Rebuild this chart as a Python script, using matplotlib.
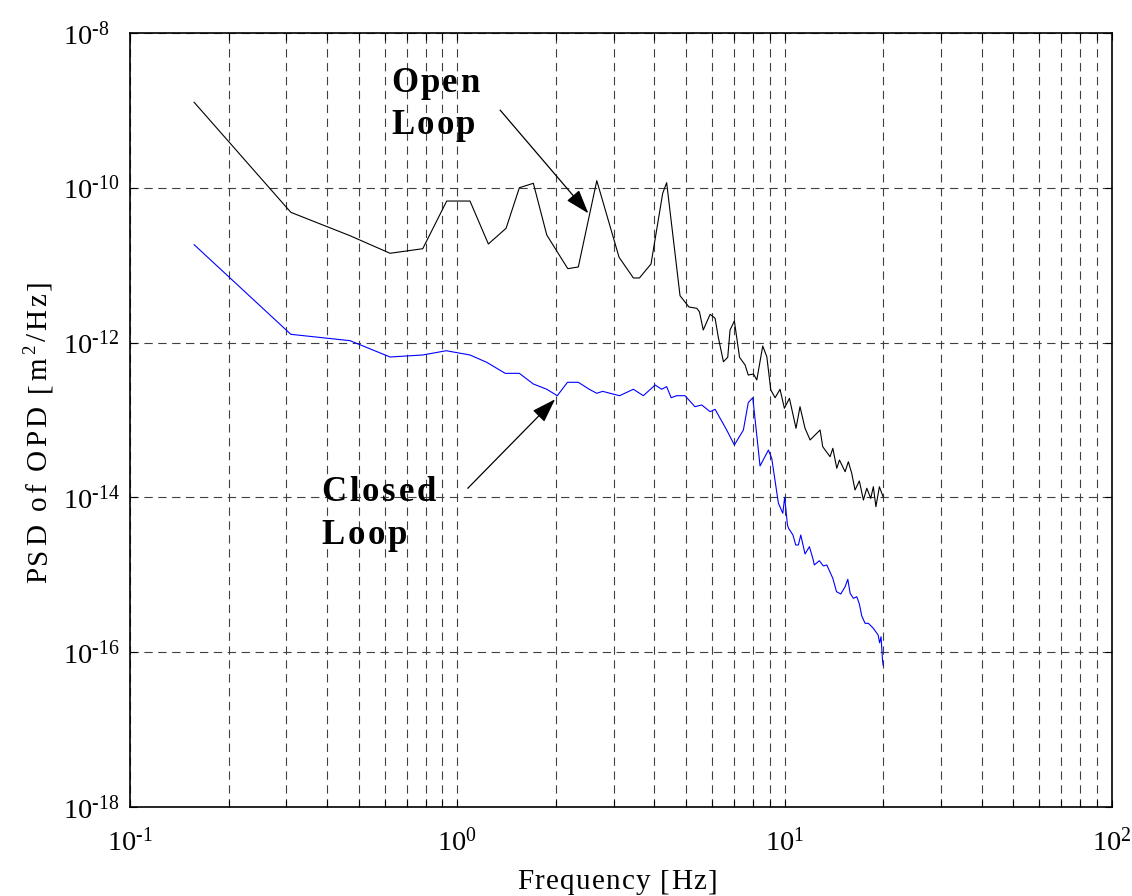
import numpy as np
import matplotlib
matplotlib.use("Agg")
import matplotlib.pyplot as plt
from matplotlib.ticker import FixedLocator, FixedFormatter, NullLocator, NullFormatter
from matplotlib.font_manager import FontProperties, findfont, get_font
from matplotlib.transforms import IdentityTransform

plt.rcParams["lines.scale_dashes"] = False
plt.rcParams["mathtext.fontset"] = "custom"
plt.rcParams["mathtext.rm"] = "Liberation Serif"
plt.rcParams["mathtext.it"] = "Liberation Serif:italic"
plt.rcParams["mathtext.bf"] = "Liberation Serif:bold"
plt.rcParams["font.family"] = ["Liberation Serif", "DejaVu Serif"]

# ---------------- data ----------------
open_freq = [0.157, 0.31, 0.47, 0.623, 0.784, 0.928, 1.093, 1.244, 1.409, 1.547,
             1.707, 1.876, 2.175, 2.342, 2.667, 3.12, 3.45, 3.6, 3.906, 4.24,
             4.36, 4.79, 5.1, 5.39, 5.49, 5.64, 5.92, 6.13, 6.27, 6.5,
             6.70, 6.81, 7.02, 7.28, 7.57, 7.74, 8.03, 8.22, 8.57, 8.82,
             9.07, 9.35, 9.68, 9.98, 10.34, 10.83, 11.14, 11.54, 11.96, 12.83,
             13.07, 13.76, 14.03, 14.43, 14.70, 15.30, 15.65, 16.03, 16.4, 16.91,
             17.40, 17.82, 18.32, 18.66, 19.0, 19.47, 20.0]
open_log10_psd = [-8.895, -10.317, -10.619, -10.846, -10.787, -10.171, -10.171, -10.726, -10.523, -9.999,
                  -9.942, -10.61, -11.045, -11.023, -9.908, -10.898, -11.165, -11.165, -10.984, -10.071,
                  -9.934, -11.394, -11.54, -11.557, -11.601, -11.837, -11.634, -11.686, -11.932, -12.247,
                  -12.19, -11.837, -11.721, -12.19, -12.289, -12.419, -12.406, -12.483, -12.044, -12.182,
                  -12.612, -12.712, -12.603, -12.849, -12.72, -13.107, -12.828, -13.107, -13.258, -13.129,
                  -13.345, -13.474, -13.366, -13.624, -13.517, -13.668, -13.539, -13.689, -13.904, -13.788,
                  -14.034, -13.882, -14.012, -13.862, -14.12, -13.862, -13.995]

closed_freq = [0.157, 0.31, 0.47, 0.623, 0.784, 0.925, 1.093, 1.23, 1.40, 1.547,
               1.707, 1.876, 2.02, 2.17, 2.342, 2.53, 2.667, 2.78, 2.93, 3.13,
               3.45, 3.70, 4.02, 4.21, 4.36, 4.5, 4.68, 4.96, 5.32, 5.58,
               5.92, 6.13, 6.65, 7.02, 7.48, 7.74, 7.99, 8.41, 8.92, 9.13,
               9.57, 9.87, 10.0, 10.2, 10.28, 10.6, 10.81, 11.01, 11.20, 11.54,
               11.90, 12.19, 12.32, 12.76, 13.13, 13.45, 14.03, 14.4, 14.84, 15.30,
               15.59, 15.85, 16.22, 16.61, 16.91, 17.2, 17.61, 18.02, 18.66, 19.3,
               19.5, 19.70, 19.9, 20.0]
closed_log10_psd = [-10.735, -11.893, -11.975, -12.186, -12.16, -12.105, -12.16, -12.255, -12.397, -12.397,
                    -12.535, -12.603, -12.686, -12.513, -12.513, -12.603, -12.655, -12.63, -12.655, -12.686,
                    -12.603, -12.686, -12.548, -12.603, -12.569, -12.712, -12.686, -12.686, -12.828, -12.806,
                    -12.893, -12.862, -13.129, -13.323, -13.129, -12.776, -12.712, -13.594, -13.388, -13.495,
                    -14.076, -14.205, -13.999, -14.357, -14.40, -14.486, -14.615, -14.615, -14.486, -14.731,
                    -14.637, -14.787, -14.873, -14.818, -14.886, -14.873, -15.045, -15.218, -15.248, -15.154,
                    -15.058, -15.239, -15.304, -15.283, -15.377, -15.532, -15.627, -15.627, -15.691, -15.778,
                    -15.878, -15.8, -16.1, -16.17]

x_major = [0.1, 1, 10, 100]
x_labels = [r"$10^{\text{-1}}$", r"$10^{0}$", r"$10^{1}$", r"$10^{2}$"]
y_major = [1e-18, 1e-16, 1e-14, 1e-12, 1e-10, 1e-8]
y_labels = [r"$10^{\text{-18}}$", r"$10^{\text{-16}}$", r"$10^{\text{-14}}$",
            r"$10^{\text{-12}}$", r"$10^{\text{-10}}$", r"$10^{\text{-8}}$"]

open_arrow_from, open_arrow_to = (1.351, 1.01e-9), (2.513, 4.68e-11)
closed_arrow_from, closed_arrow_to = (1.076, 1.31e-14), (1.989, 1.85e-13)

# ---------------- figure ----------------
W, H, DPI = 1132, 896, 100
fig = plt.figure(figsize=(W / DPI, H / DPI), dpi=DPI)
ax = fig.add_axes([130 / W, (H - 807) / H, 982 / W, 774 / H])
ax.set_xscale("log")
ax.set_yscale("log")
ax.set_xlim(0.1, 100)
ax.set_ylim(1e-18, 1e-8)

ax.plot(open_freq, 10.0 ** np.array(open_log10_psd), color="black", lw=0.8)
ax.plot(closed_freq, 10.0 ** np.array(closed_log10_psd), color="#0000ff", lw=0.8)

ax.xaxis.set_major_locator(FixedLocator(x_major))
ax.xaxis.set_major_formatter(FixedFormatter(x_labels))
minor_x = [m * d for d in (0.1, 1, 10) for m in range(2, 10)]
ax.xaxis.set_minor_locator(FixedLocator(minor_x))
ax.xaxis.set_minor_formatter(NullFormatter())
ax.yaxis.set_major_locator(FixedLocator(y_major))
ax.yaxis.set_major_formatter(FixedFormatter(y_labels))
ax.yaxis.set_minor_locator(NullLocator())

ax.tick_params(which="both", direction="in", top=True, right=True, length=5, width=0.8)
ax.tick_params(axis="x", labelsize=20.5, pad=15)
ax.tick_params(axis="y", labelsize=20.5, pad=48)
for lbl in ax.get_yticklabels():
    lbl.set_horizontalalignment("left")
for s in ax.spines.values():
    s.set_linewidth(1.2)

grid_kw = dict(color="0.25", lw=0.8, ls=(0, (6, 4)))
ax.grid(True, which="major", axis="both", **grid_kw)
ax.grid(True, which="minor", axis="x", **grid_kw)
ax.set_axisbelow(True)

arrow_kw = dict(arrowstyle="-|>,head_length=0.75,head_width=0.25", color="black",
                lw=0.9, mutation_scale=20, shrinkA=0, shrinkB=0)
ax.annotate("", xy=open_arrow_to, xytext=open_arrow_from, arrowprops=arrow_kw)
ax.annotate("", xy=closed_arrow_to, xytext=closed_arrow_from, arrowprops=arrow_kw)


# ---------------- letter-spaced text helper ----------------
def spaced_text(x, y, parts, track, rotation=0, ha="left"):
    items = []
    for text, size, weight, rise in parts:
        prop = FontProperties(family="Liberation Serif", size=size, weight=weight)
        font = get_font(findfont(prop))
        font.set_size(size, DPI)
        for ch in text:
            g = font.load_char(ord(ch))
            adv = g.linearHoriAdvance / 65536.0
            items.append((ch, prop, adv, rise))
    total = sum(it[2] for it in items) + track * (len(items) - 1)
    pos = 0.0 if ha == "left" else -total / 2.0
    ang = np.deg2rad(rotation)
    ux, uy = np.cos(ang), np.sin(ang)
    vx, vy = -uy, ux
    for ch, prop, adv, rise in items:
        px = x + pos * ux + rise * vx
        py = y + pos * uy + rise * vy
        if ch != " ":
            fig.text(px, py, ch, fontproperties=prop, rotation=rotation,
                     rotation_mode="anchor", ha="left", va="baseline",
                     transform=IdentityTransform(), color="black")
        pos += adv + track


# annotations (pixel positions, origin bottom-left)
spaced_text(391, H - 92, [("Open", 25, "bold", 0)], 2.3)
spaced_text(391, H - 134, [("Loop", 25, "bold", 0)], 2.3)
spaced_text(321, H - 501, [("Closed", 25, "bold", 0)], 3.0)
spaced_text(321, H - 544, [("Loop", 25, "bold", 0)], 3.0)

# axis labels
spaced_text(517, H - 889, [("Frequency [Hz]", 21, "normal", 0)], 1.3)
spaced_text(46, H - 583, [("PSD of OPD [m", 21, "normal", 0), ("2", 13.5, "normal", 11),
                          ("/Hz]", 21, "normal", 0)], 3.0, rotation=90)

fig.savefig("out.png", dpi=DPI)
